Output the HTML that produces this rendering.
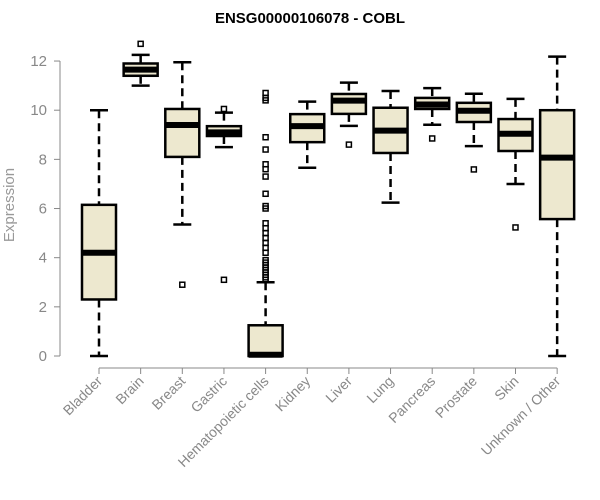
<!DOCTYPE html>
<html><head><meta charset="utf-8"><style>
body{margin:0;background:#fff}
svg{display:block;font-family:"Liberation Sans",Arial,sans-serif}
</style></head><body>
<svg id="chart" width="600" height="500">
<text x="310" y="23" text-anchor="middle" font-weight="bold" font-size="15">ENSG00000106078 - COBL</text>
<text transform="translate(14,205) rotate(-90)" text-anchor="middle" font-size="15" fill="#999">Expression</text>
<g id="axes"></g><g id="boxes"></g>
</svg>
<script>
const categories=["Bladder","Brain","Breast","Gastric","Hematopoietic cells","Kidney","Liver","Lung","Pancreas","Prostate","Skin","Unknown / Other"];
const whiskerLow=[0,11,5.35,8.5,0,7.66,9.36,6.24,9.41,8.54,7.0,0];
const q1=[2.3,11.4,8.1,8.95,0,8.7,9.85,8.26,10.05,9.52,8.34,5.57];
const medians=[4.2,11.65,9.4,9.1,0.05,9.35,10.39,9.17,10.23,9.98,9.04,8.07];
const q3=[6.15,11.9,10.05,9.35,1.25,9.84,10.66,10.1,10.5,10.3,9.64,10.0];
const whiskerHigh=[10,12.25,11.95,9.9,3.0,10.35,11.12,10.78,10.9,10.67,10.46,12.18];
const outliers=[[],[12.7],[2.9],[3.1,10.05],[3.1,3.2,3.3,3.4,3.5,3.6,3.7,3.8,3.9,4.2,4.4,4.6,4.8,5.0,5.2,5.4,6.0,6.1,6.6,7.3,7.6,7.8,8.4,8.9,10.4,10.5,10.7],[],[8.6],[],[8.85],[7.59],[5.23],[]];
const yTicks=[0,2,4,6,8,10,12];
const NS="http://www.w3.org/2000/svg";
const y=v=>356-v*24.58;
const x=i=>99+i*41.65;
function mk(t,a,p){const e=document.createElementNS(NS,t);for(const k in a)e.setAttribute(k,a[k]);p.appendChild(e);return e;}
const ax=document.getElementById('axes'),bx=document.getElementById('boxes');
const yl=mk('line',{x1:60,x2:60,y1:y(12),y2:y(0),stroke:'#888'},ax);


yTicks.forEach(t=>{
 mk('line',{x1:54,x2:60,y1:y(t),y2:y(t),stroke:'#888'},ax);
 const tx=mk('text',{x:47,y:y(t)+5,'text-anchor':'end','font-size':15,fill:'#888'},ax);
 tx.textContent=t;
 
 
});
const xl=mk('line',{x1:x(0),x2:x(categories.length-1),y1:368,y2:368,stroke:'#888'},ax);


categories.forEach((c,i)=>{
 const cx=x(i);
 mk('line',{x1:cx,x2:cx,y1:368,y2:374,stroke:'#888'},ax);
 const tx=mk('text',{transform:`translate(${cx+4},${382}) rotate(-45)`,'text-anchor':'end','font-size':14,fill:'#888'},ax);
 tx.textContent=c;
 
 
 const g=mk('g',{},bx);
 
 
 const st={stroke:'#000','stroke-width':2.5};
 mk('line',Object.assign({x1:cx,x2:cx,y1:y(whiskerHigh[i]),y2:y(q3[i]),'stroke-dasharray':'8,5'},st),g);
 mk('line',Object.assign({x1:cx,x2:cx,y1:y(q1[i]),y2:y(whiskerLow[i]),'stroke-dasharray':'8,5'},st),g);
 mk('line',Object.assign({x1:cx-9,x2:cx+9,y1:y(whiskerHigh[i]),y2:y(whiskerHigh[i])},st),g);
 mk('line',Object.assign({x1:cx-9,x2:cx+9,y1:y(whiskerLow[i]),y2:y(whiskerLow[i])},st),g);
 mk('rect',Object.assign({x:cx-17,y:y(q3[i]),width:34,height:Math.max(y(q1[i])-y(q3[i]),0.5),fill:'#ede8cf'},st),g);
 mk('line',{x1:cx-17,x2:cx+17,y1:y(medians[i]),y2:y(medians[i]),stroke:'#000','stroke-width':6},g);
 outliers[i].forEach(o=>{
  const r=mk('rect',{x:cx-2.5,y:y(o)-2.5,width:5,height:5,fill:'none',stroke:'#000','stroke-width':1.5},g);
  
  
 });
});
</script>
</body></html>
